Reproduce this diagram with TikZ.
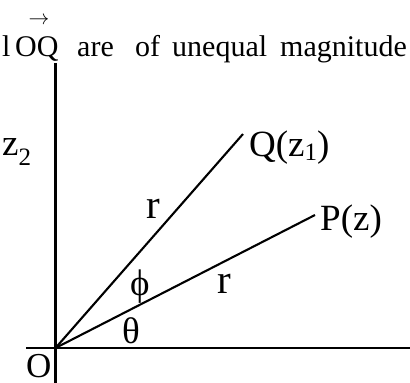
\documentclass[tikz,border=0pt]{standalone}
\usepackage{fontspec}
\setmainfont{Liberation Serif}
\newcommand\lowsub[3]{\raisebox{-#1}{\fontsize{#2}{#2}\selectfont #3}}
\begin{document}
\begin{tikzpicture}[x=1pt,y=-1pt,
  toptext/.style={anchor=base west,inner sep=0pt,font=\fontsize{30}{36}\selectfont},
  lbl/.style={anchor=base west,inner sep=0pt,font=\fontsize{37}{44}\selectfont},
  rlbl/.style={anchor=base west,inner sep=0pt,font=\fontsize{41}{48}\selectfont},
  axis/.style={line width=2.6pt},
  ray/.style={line width=2.1pt}]
\useasboundingbox (0,0) rectangle (410,383);
% top text
\node[toptext] (t0) at (2,56) {l};
\node[toptext] (t1) at (15,56) {OQ};
\node[anchor=center,inner sep=0pt,font=\fontsize{22}{22}\selectfont] (arr) at (39,21) {$\rightarrow$};
\node[toptext] (t2) at (77,56) {are};
\node[toptext] (t3) at (135,56) {of};
\node[toptext] (t4) at (172,56) {unequal};
\node[toptext] (t5) at (280,56) {magnitude};
% axes
\coordinate (O) at (55.5,348);
\coordinate (ytop) at (55.5,63);
\coordinate (ybot) at (55.5,383);
\coordinate (xl) at (26,348);
\coordinate (xr) at (410,348);
\draw[axis] (ytop) -- (ybot);
\draw[axis] (xl) -- (xr);
% rays
\coordinate (Q) at (243,134);
\coordinate (P) at (315,215);
\draw[ray] (O) -- (Q);
\draw[ray] (O) -- (P);
% labels
\node[lbl] (lz2) at (2,155) {z\lowsub{10pt}{25}{2}};
\node[lbl] (lQ) at (249,156) {Q(z\lowsub{4pt}{25}{1})};
\node[lbl] (lP) at (320,230) {P(z)};
\node[rlbl] (r1) at (146,218) {r};
\node[rlbl] (r2) at (217,293) {r};
\node[lbl] (phi) at (130,295) {ϕ};
\node[lbl] (th) at (122,343) {θ};
\node[lbl,font=\fontsize{35}{42}\selectfont] (lO) at (26,377) {O};
\end{tikzpicture}
\end{document}
